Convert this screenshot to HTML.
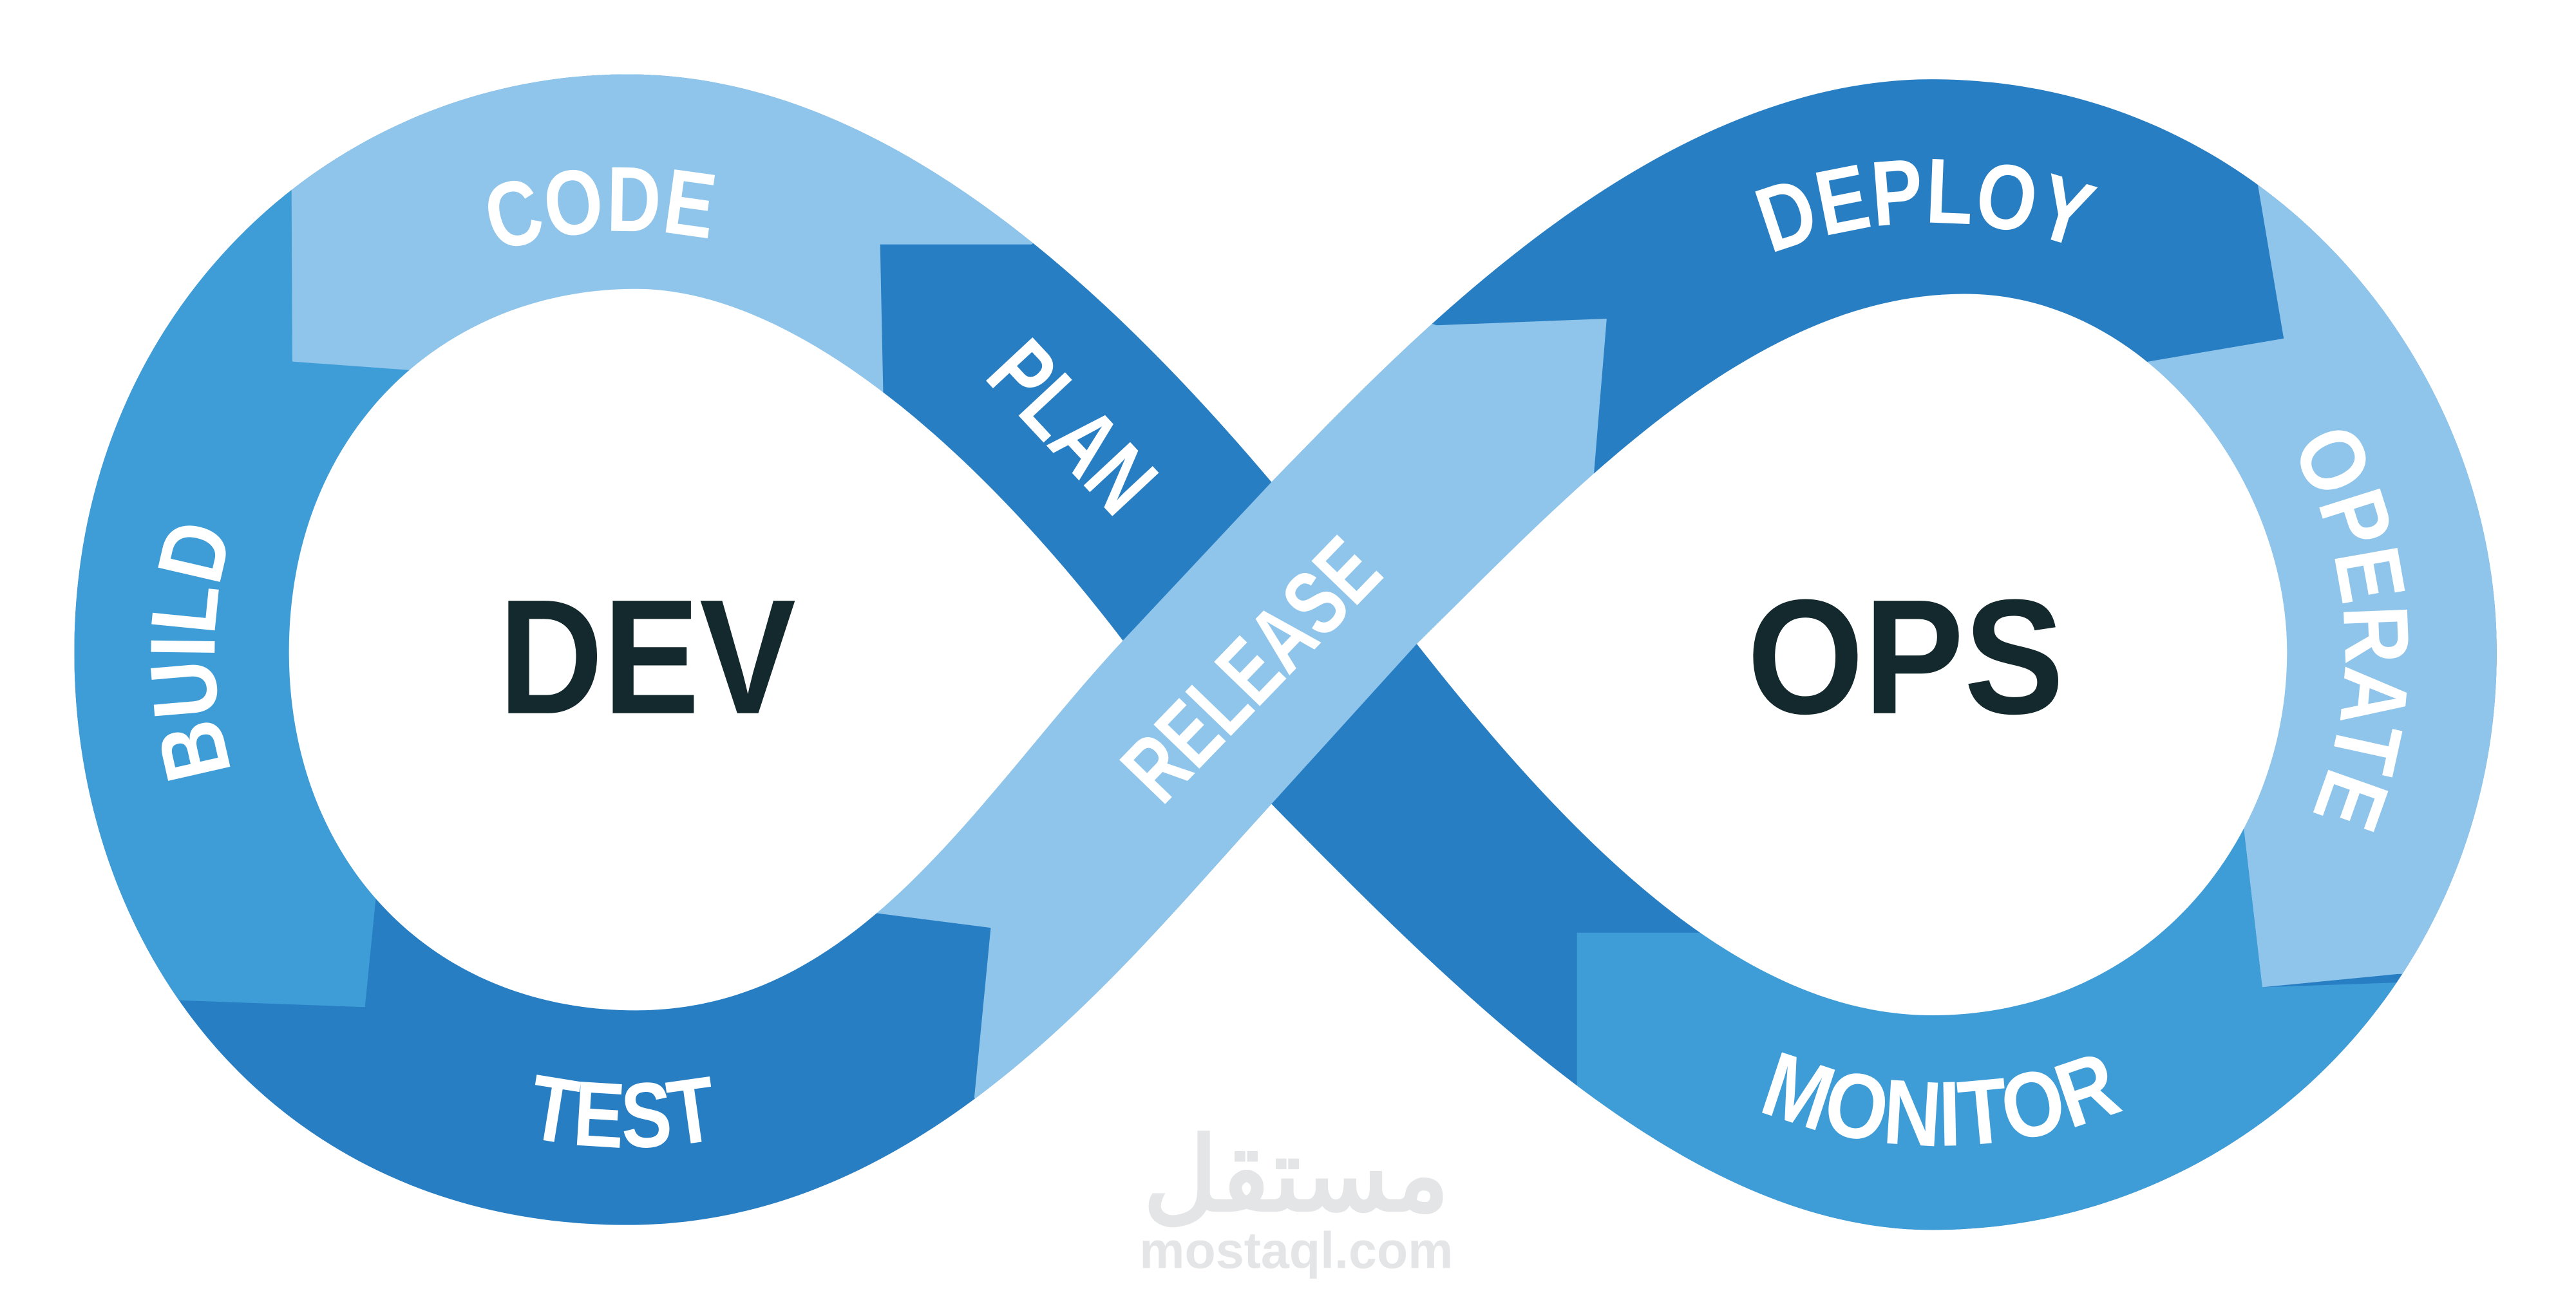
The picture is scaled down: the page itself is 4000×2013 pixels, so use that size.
<!DOCTYPE html>
<html><head><meta charset="utf-8"><style>
html,body{margin:0;padding:0;background:#fff;width:4000px;height:2013px;overflow:hidden}
svg{display:block}
.lb{font-family:"Liberation Sans",sans-serif;font-weight:bold;font-size:56px;fill:#fff}
.big{font-family:"Liberation Sans",sans-serif;font-weight:bold;font-size:99px;fill:#13292d}
</style></head><body>
<svg width="4000" height="2013" viewBox="0 0 1560 785" xmlns="http://www.w3.org/2000/svg">
<defs>
<clipPath id="c"><path d="M770,292 C850,210 1000,48 1170,48 C1372,48 1512,220 1512,395 C1512,590 1360,745 1170,745 C1030,745 900,620 770,487 C680,585 560,742 380,742 C170,742 45,580 45,395 C45,190 200,45 380,45 C520,45 650,150 770,292 Z"/></clipPath>
<path id="pCode" d="M125,395 A255 255 0 0 1 635,395"/>
<path id="pBuild" d="M380,645 A250 250 0 0 1 380,145"/>
<path id="pTest" d="M80,395 A300 300 0 0 0 680,395"/>
<path id="pMon" d="M881,400 A294 294 0 0 0 1469,400"/>
<path id="pDep" d="M910,395 A260 260 0 0 1 1430,395"/>
<path id="pOp" d="M1170,145 A250 250 0 0 1 1170,645"/>
</defs>
<g clip-path="url(#c)">
<rect x="0" y="0" width="1560" height="785" fill="#287EC3"/>
<polygon fill="#3E9DD7" points="0,0 176,0 177,219 300,219 300,540 228,540 221,610 0,602"/>
<polygon fill="#8FC5EB" points="176,0 720,0 625,148 533,148 535,245 177,219"/>
<polygon fill="#8FC5EB" points="1330,0 1600,0 1600,590 1452,590 1370,598 1358,495 1300,495 1295,220 1383,205 1367,110"/>
<polygon fill="#3E9DD7" points="955,565 1100,565 1100,495 1358,495 1370,598 1600,590 1600,800 955,800"/>
<polygon fill="#8FC5EB" points="600,562 590,665 640,700 770,487 858,390 930,360 965,290 973,193 870,197 820,180 770,292 680,388 600,430 522,552"/>
</g>
<path fill="#fff" d="M680,388 C590,485 520,612 385,612 C260,612 175,520 175,395 C175,260 270,175 385,175 C480,175 590,270 680,388 Z"/>
<path fill="#fff" d="M858,390 C950,300 1060,178 1190,178 C1300,178 1385,290 1385,395 C1385,510 1300,615 1170,615 C1060,615 960,520 858,390 Z"/>
<text class="lb"><textPath href="#pCode" startOffset="385" text-anchor="middle" textLength="132" lengthAdjust="spacingAndGlyphs">CODE</textPath></text>
<text class="lb"><textPath href="#pBuild" startOffset="393" text-anchor="middle" textLength="148" lengthAdjust="spacingAndGlyphs">BUILD</textPath></text>
<text class="lb"><textPath href="#pTest" startOffset="468" text-anchor="middle" textLength="118" lengthAdjust="spacingAndGlyphs">TEST</textPath></text>
<text class="lb"><textPath href="#pMon" startOffset="462" text-anchor="middle" textLength="228" lengthAdjust="spacingAndGlyphs">MONITOR</textPath></text>
<text class="lb"><textPath href="#pDep" startOffset="404" text-anchor="middle" textLength="192" lengthAdjust="spacingAndGlyphs">DEPLOY</textPath></text>
<text class="lb"><textPath href="#pOp" startOffset="378" text-anchor="middle" textLength="232" lengthAdjust="spacingAndGlyphs">OPERATE</textPath></text>
<text class="lb" transform="translate(650,258) rotate(47)" text-anchor="middle" dy="20" textLength="118" lengthAdjust="spacingAndGlyphs">PLAN</text>
<text class="lb" transform="translate(757,405) rotate(-46)" text-anchor="middle" dy="20" textLength="195" lengthAdjust="spacingAndGlyphs">RELEASE</text>
<text class="big" x="302" y="432" textLength="180" lengthAdjust="spacingAndGlyphs">DEV</text>
<text class="big" x="1058" y="432" textLength="192" lengthAdjust="spacingAndGlyphs">OPS</text>
<text x="785" y="733" text-anchor="middle" font-family="'Liberation Sans','Noto Sans CJK SC',sans-serif" font-weight="bold" font-size="62" fill="#e4e5e7">مستقل</text>
<text x="690" y="768" font-family="'Liberation Sans',sans-serif" font-weight="bold" font-size="31" fill="#e4e5e7" textLength="190" lengthAdjust="spacingAndGlyphs">mostaql.com</text>
</svg>
</body></html>
